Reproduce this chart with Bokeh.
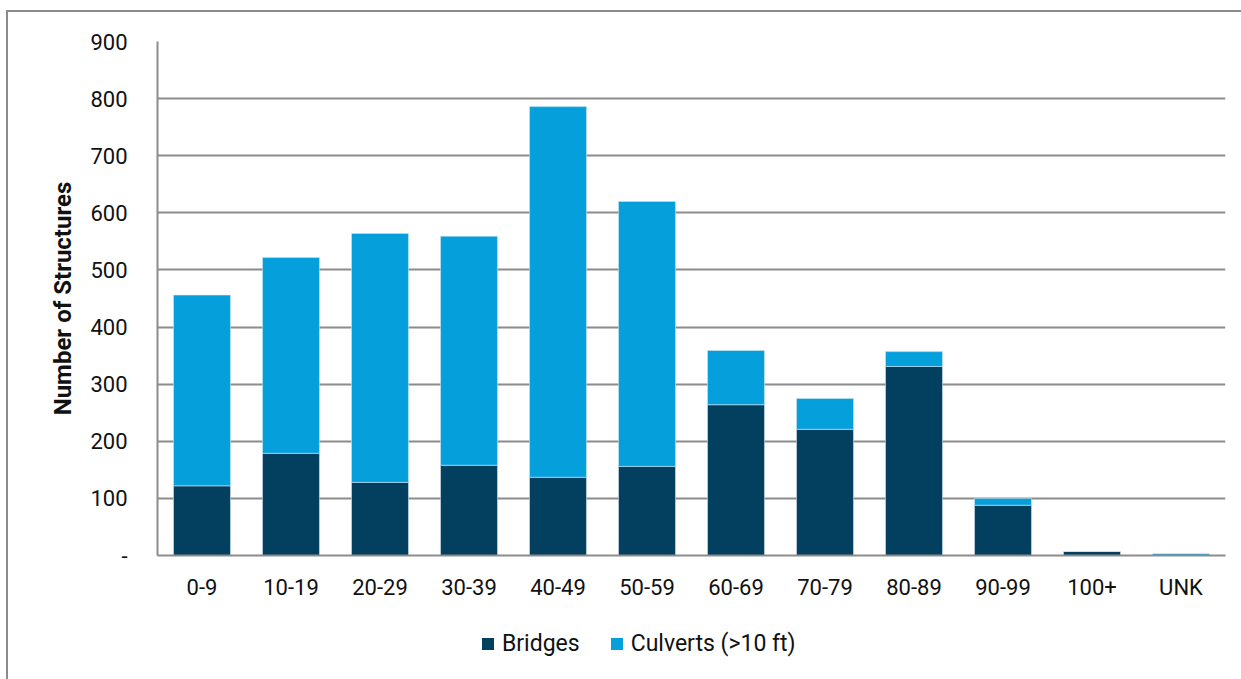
from bokeh.plotting import figure
from bokeh.layouts import column
from bokeh.models import ColumnDataSource, FixedTicker, Legend, LegendItem
from bokeh.embed import file_html
from bokeh.resources import INLINE

categories = ["0-9", "10-19", "20-29", "30-39", "40-49", "50-59", "60-69",
              "70-79", "80-89", "90-99", "100+", "UNK"]
bridges = [122, 179, 128, 158, 137, 156, 264, 221, 331, 88, 7, 0]
culverts = [334, 343, 436, 401, 649, 464, 95, 54, 26, 12, 0, 3]
series_names = ["Bridges", "Culverts (>10 ft)"]
y_ticks = [0, 100, 200, 300, 400, 500, 600, 700, 800, 900]
y_tick_labels = ["-", "100", "200", "300", "400", "500", "600", "700", "800", "900"]

FONT = "Roboto"
C_BR = "#033f5f"
C_CU = "#05a0dc"
GRID = "#8c8c8c"
TXT = "#111111"

src = ColumnDataSource(dict(cat=categories, Bridges=bridges, Culverts=culverts))

p = figure(x_range=categories, y_range=(0, 900), width=1233, height=600,
           output_backend="svg", toolbar_location=None,
           min_border_left=149, min_border_right=16, min_border_top=29,
           min_border_bottom=57)

r = p.vbar_stack(["Bridges", "Culverts"], x="cat", width=0.64, source=src,
                 color=[C_BR, C_CU], line_color="#cfe3ee", line_width=0.6)

p.outline_line_color = None
p.xgrid.grid_line_color = None
p.ygrid.grid_line_color = GRID
p.ygrid.grid_line_width = 2

p.yaxis.ticker = FixedTicker(ticks=y_ticks)
p.yaxis.major_label_overrides = {t: l for t, l in zip(y_ticks, y_tick_labels)}
for ax in (p.xaxis[0], p.yaxis[0]):
    ax.axis_line_color = GRID
    ax.axis_line_width = 2
    ax.major_tick_line_color = None
    ax.minor_tick_line_color = None
    ax.major_label_text_font = FONT
    ax.major_label_text_font_size = "22px"
    ax.major_label_text_color = TXT
p.yaxis.major_label_standoff = 24
p.xaxis.major_label_standoff = 13
p.yaxis.axis_label = "Number of Structures"
p.yaxis.axis_label_text_font = FONT
p.yaxis.axis_label_text_font_size = "24px"
p.yaxis.axis_label_text_font_style = "bold"
p.yaxis.axis_label_text_color = TXT
p.yaxis.axis_label_standoff = 10

# legend strip below the chart (its bars lie far outside its visible range)
p2 = figure(width=1233, height=67, x_range=p.x_range, y_range=(100000, 200000),
            output_backend="svg", toolbar_location=None,
            x_axis_type=None, y_axis_type=None,
            min_border=0)
p2.outline_line_color = None
p2.xgrid.visible = False
p2.ygrid.visible = False
r2 = p2.vbar_stack(["Bridges", "Culverts"], x="cat", width=0.64, source=src,
                   fill_color=[C_BR, C_CU], line_color=None)

legend = Legend(items=[LegendItem(label=series_names[0], renderers=[r2[0]]),
                       LegendItem(label=series_names[1], renderers=[r2[1]])],
                orientation="horizontal", location=(323, 22),
                border_line_color=None, background_fill_alpha=0,
                padding=0, margin=0, spacing=29, label_standoff=7,
                glyph_width=15, glyph_height=15,
                label_text_font=FONT, label_text_font_size="23px",
                label_text_color=TXT)
p2.add_layout(legend)

layout = column(p, p2, spacing=0)
layout.margin = (10, 0, 0, 6)
layout.styles = {"border-top": "2px solid #8c8c8c", "border-left": "2px solid #8c8c8c"}

open("out.html", "w").write(file_html(layout, INLINE))
